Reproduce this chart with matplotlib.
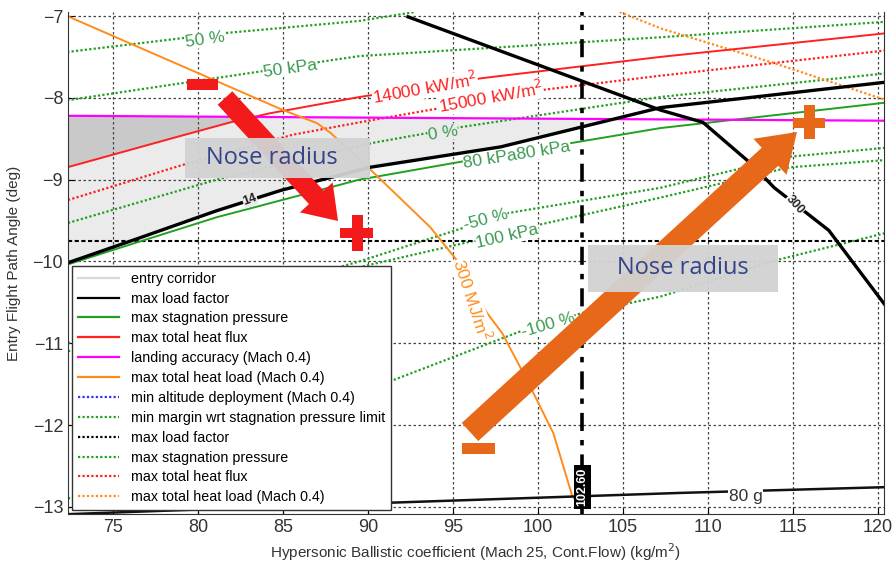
import numpy as np
import matplotlib
matplotlib.use('Agg')
import matplotlib.pyplot as plt
from matplotlib.lines import Line2D
from matplotlib.patches import Rectangle, FancyArrowPatch

plt.rcParams['font.family'] = ['Liberation Sans Narrow', 'Liberation Sans', 'DejaVu Sans']

W, H = 893, 567

# ---- curves (x: ballistic coeff, y: flight path angle) ----
# max load factor, 14 g (solid black, lower corridor bound)
lf14_x = [72.3, 76.6, 81.1, 84.9, 90.1, 97.8, 107.2, 120.4]
lf14_y = [-10.02, -9.71, -9.38, -9.13, -8.85, -8.60, -8.12, -7.81]
# max load factor, 300 (solid black)
lf300_x = [92.35, 107.2, 109.7, 112.5, 113.9, 117.1, 120.4]
lf300_y = [-7.01, -8.15, -8.30, -8.80, -9.10, -9.62, -10.53]
# max load factor, 80 g (solid black, bottom)
lf80_x = [72.35, 91.3, 108.4, 120.4]
lf80_y = [-13.09, -12.95, -12.83, -12.76]
# max stagnation pressure 80 kPa (solid green)
sp80_x = [72.3, 75.0, 81.1, 89.5, 96.6, 107.2, 120.4]
sp80_y = [-10.04, -9.86, -9.46, -9.00, -8.74, -8.37, -8.06]
# max total heat flux 14000 kW/m2 (solid red)
hf14_x = [72.3, 78.9, 81.9, 84.2, 89.5, 96.7, 107.2, 120.5]
hf14_y = [-8.85, -8.47, -8.30, -8.19, -7.99, -7.76, -7.50, -7.21]
# max total heat flux 15000 kW/m2 (dotted red)
hf15_x = [72.35, 79.1, 85.6, 89.5, 100.4, 107.2, 120.5]
hf15_y = [-9.25, -8.82, -8.45, -8.30, -7.90, -7.73, -7.42]
# landing accuracy (magenta)
land_x = [72.35, 96.0, 120.4]
land_y = [-8.22, -8.25, -8.28]
# max total heat load 300 MJ/m2 (solid orange)
hl_x = [72.3, 85.0, 87.0, 87.8, 90.3, 93.65, 95.2, 97.0, 97.9, 99.35, 100.9, 102.0, 102.45]
hl_y = [-7.00, -8.15, -8.31, -8.43, -8.91, -9.58, -9.98, -10.63, -10.88, -11.45, -12.10, -12.86, -13.0]
# max total heat load (dotted orange)
hl2_x = [104.8, 107.2, 113.8, 120.5]
hl2_y = [-6.95, -7.15, -7.57, -8.03]
# green dotted: margin wrt stagnation pressure limit / stagnation pressure
m50_x = [72.3, 81.5, 89.5, 92.8]
m50_y = [-7.44, -7.21, -7.06, -6.95]
sp50_x = [72.3, 83.6, 87.2, 89.5, 107.2, 120.5]
sp50_y = [-8.03, -7.68, -7.56, -7.49, -7.26, -7.07]
m0_x = [72.35, 81.1, 90.3, 95.4, 107.2, 120.5]
m0_y = [-9.53, -9.00, -8.55, -8.36, -7.99, -7.70]
mm50_x = [72.35, 89.5, 95.6, 98.2, 107.2, 114.8, 120.5]
mm50_y = [-11.0, -10.00, -9.59, -9.41, -9.10, -8.72, -8.61]
sp100_x = [72.35, 89.5, 96.4, 100.1, 107.2, 114.8, 120.5]
sp100_y = [-11.1, -10.07, -9.74, -9.55, -9.22, -8.85, -8.76]
mm100_x = [72.35, 91.5, 98.9, 102.6, 107.2, 114.1, 120.5]
mm100_y = [-12.9, -11.45, -10.86, -10.63, -10.43, -9.98, -9.65]
# max load factor dotted limit and selected ballistic coefficient
lf_dot_y = -9.75
bc_sel = 102.60

xticks = [75, 80, 85, 90, 95, 100, 105, 110, 115, 120]
yticks = [-13, -12, -11, -10, -9, -8, -7]

legend_labels = ['entry corridor', 'max load factor', 'max stagnation pressure',
                 'max total heat flux', 'landing accuracy (Mach 0.4)',
                 'max total heat load (Mach 0.4)', 'min altitude deployment (Mach 0.4)',
                 'min margin wrt stagnation pressure limit', 'max load factor',
                 'max stagnation pressure', 'max total heat flux',
                 'max total heat load (Mach 0.4)']

GREEN = '#22a022'
GREEN_T = '#3c9a52'
RED = '#ff2020'
ORANGE = '#ff8c1a'
DOT = (0, (1, 1))

fig = plt.figure(figsize=(W / 100, H / 100), dpi=100)
ax = fig.add_axes([68 / W, 1 - 514 / H, (884 - 68) / W, (514 - 12) / H])
ax.set_xlim(72.35, 120.35)
ax.set_ylim(-13.088, -6.951)

# entry corridor shading
xs = np.linspace(72.35, 120.35, 600)
top = np.interp(xs, land_x, land_y)
low = np.interp(xs, lf14_x, lf14_y)
red = np.interp(xs, hf14_x, hf14_y)
ax.fill_between(xs, low, top, where=top > low, color='#ebebeb', lw=0, zorder=0.2)
ax.fill_between(xs, red, top, where=(top > red) & (top > low), color='#c9c9c9', lw=0, zorder=0.3)

# grid
ax.set_axisbelow(True)
ax.grid(True, color='#444444', ls=(0, (2, 2)), lw=0.9)

# lines
ax.plot(m50_x, m50_y, color=GREEN, ls=DOT, lw=1.6)
ax.plot(sp50_x, sp50_y, color=GREEN, ls=DOT, lw=1.6)
ax.plot(m0_x, m0_y, color=GREEN, ls=DOT, lw=1.6)
ax.plot(mm50_x, mm50_y, color=GREEN, ls=DOT, lw=1.6)
ax.plot(sp100_x, sp100_y, color=GREEN, ls=DOT, lw=1.6)
ax.plot(mm100_x, mm100_y, color=GREEN, ls=DOT, lw=1.6)
ax.plot(hf15_x, hf15_y, color=RED, ls=DOT, lw=1.6)
ax.plot(hl2_x, hl2_y, color=ORANGE, ls=DOT, lw=1.6)
ax.axhline(lf_dot_y, color='k', ls=(0, (2, 1.2)), lw=1.5)
ax.plot(sp80_x, sp80_y, color=GREEN, lw=1.4)
ax.plot(hf14_x, hf14_y, color=RED, lw=1.4)
ax.plot(land_x, land_y, color='#ff00ff', lw=1.6)
ax.plot(hl_x, hl_y, color=ORANGE, lw=1.4)
ax.plot(lf14_x, lf14_y, color='k', lw=2.4)
ax.plot(lf300_x, lf300_y, color='k', lw=2.4)
ax.plot(lf80_x, lf80_y, color='#111111', lw=1.8)
ax.axvline(bc_sel, color='k', lw=2.6, ls=(0, (5, 2.5, 1.5, 2.5)))

# contour style labels
wb = dict(fc='white', ec='none', pad=0.3)
gb = dict(fc='#ebebeb', ec='none', pad=0.3)
lab = dict(family=['Liberation Sans', 'DejaVu Sans'], fontsize=12.5,
           ha='center', va='center', zorder=4)
ax.text(80.4, -7.29, '50 %', color=GREEN_T, rotation=8, bbox=wb, **lab)
ax.text(85.4, -7.64, '50 kPa', color=GREEN_T, rotation=8, bbox=wb, **lab)
ax.text(93.35, -7.88, '14000 kW/m$^2$', color=RED, rotation=10, bbox=wb, **lab)
ax.text(97.2, -7.99, '15000 kW/m$^2$', color=RED, rotation=10, bbox=wb, **lab)
ax.text(94.4, -8.43, '0 %', color=GREEN_T, rotation=9, bbox=gb, **lab)
ax.text(98.76, -8.70, '80 kPa80 kPa', color=GREEN_T, rotation=9, bbox=wb, **lab)
ax.text(96.9, -9.49, '-50 %', color=GREEN_T, rotation=15, bbox=wb, **lab)
ax.text(98.2, -9.70, '100 kPa', color=GREEN_T, rotation=13, bbox=wb, **lab)
ax.text(100.6, -10.78, '-100 %', color=GREEN_T, rotation=16, bbox=wb, **lab)
ax.text(96.1, -10.47, '300 MJ/m$^2$', color=ORANGE, rotation=-72, bbox=wb, **lab)
ax.text(112.2, -12.87, '80 g', color='#333333', bbox=wb, **lab)
ax.text(83.06, -9.25, '14', color='#222222', rotation=20, fontsize=9, fontweight='bold',
        ha='center', va='center', bbox=gb, zorder=4)
ax.text(115.1, -9.31, '300', color='#222222', rotation=-48, fontsize=9, fontweight='bold',
        ha='center', va='center', bbox=wb, zorder=4)
ax.text(bc_sel, -12.76, '102.60', color='white', rotation=90, fontsize=9, fontweight='bold',
        ha='center', va='center', bbox=dict(fc='black', ec='none', pad=2), zorder=5)

# axes styling
ax.set_xticks(xticks)
ax.set_yticks(yticks)
ax.tick_params(direction='in', labelsize=13, labelcolor='#333333', length=4)
ax.spines['top'].set_visible(False)
for s in ['left', 'bottom', 'right']:
    ax.spines[s].set_color('#333333')
ax.set_xlabel('Hypersonic Ballistic coefficient (Mach 25, Cont.Flow) (kg/m$^2$)',
              fontsize=11, color='#333333', labelpad=4)
ax.set_ylabel('Entry Flight Path Angle (deg)', fontsize=11, color='#333333', labelpad=8)

# legend
handles = [
    Line2D([], [], color='#d8d8d8', lw=1.6),
    Line2D([], [], color='k', lw=1.6),
    Line2D([], [], color=GREEN, lw=1.6),
    Line2D([], [], color=RED, lw=1.6),
    Line2D([], [], color='#ff00ff', lw=1.6),
    Line2D([], [], color=ORANGE, lw=1.6),
    Line2D([], [], color='#3030ff', lw=1.6, ls=DOT),
    Line2D([], [], color=GREEN, lw=1.6, ls=DOT),
    Line2D([], [], color='k', lw=1.6, ls=DOT),
    Line2D([], [], color=GREEN, lw=1.6, ls=DOT),
    Line2D([], [], color=RED, lw=1.6, ls=DOT),
    Line2D([], [], color=ORANGE, lw=1.6, ls=DOT),
]
leg = ax.legend(handles, legend_labels, loc='lower left',
                bbox_to_anchor=(72 / W, 1 - 510 / H), bbox_transform=fig.transFigure,
                fontsize=10.3, handlelength=2.9, labelspacing=0.41, borderaxespad=0,
                fancybox=False, framealpha=1, edgecolor='#333333', borderpad=0.4)
leg.get_frame().set_linewidth(1.0)
leg.set_zorder(6)


# ---- overlay annotations (in figure pixel positions) ----
def fp(x, y):
    return (x / W, 1 - y / H)


def rect(x0, y0, x1, y1, color, z, alpha=1.0):
    fig.add_artist(Rectangle(fp(x0, y1), (x1 - x0) / W, (y1 - y0) / H,
                             transform=fig.transFigure, color=color, zorder=z,
                             alpha=alpha, lw=0))


ARED = '#f21a1a'
AORA = '#e8681a'
fig.add_artist(FancyArrowPatch(fp(225, 98), fp(338, 221), transform=fig.transFigure,
                               arrowstyle='simple,head_length=2.1,head_width=2.9,tail_width=1.3',
                               mutation_scale=11, color=ARED, lw=0, zorder=7,
                               shrinkA=0, shrinkB=0))
fig.add_artist(FancyArrowPatch(fp(470, 432), fp(797, 132), transform=fig.transFigure,
                               arrowstyle='simple,head_length=2.4,head_width=3.2,tail_width=1.6',
                               mutation_scale=11, color=AORA, lw=0, zorder=7,
                               shrinkA=0, shrinkB=0))

rect(185, 138, 370, 178, '#d2d2d2', 8, 0.95)
rect(588, 245, 778, 292, '#d2d2d2', 8, 0.95)
box_txt = dict(family=['Open Sans', 'DejaVu Sans'], fontsize=17, color='#34448a',
               ha='center', va='center', zorder=9)
fig.text(*fp(272, 158), 'Nose radius', **box_txt)
fig.text(*fp(683, 268), 'Nose radius', **box_txt)

# minus / plus signs
rect(187, 79, 218, 90, ARED, 9)
rect(340, 228, 373, 238, ARED, 9)
rect(352, 215, 363, 251, ARED, 9)
rect(462, 443, 495, 454, AORA, 9)
rect(793, 118, 825, 128, AORA, 9)
rect(804, 105, 815, 139, AORA, 9)

fig.savefig('out.png', dpi=100, facecolor='white')
